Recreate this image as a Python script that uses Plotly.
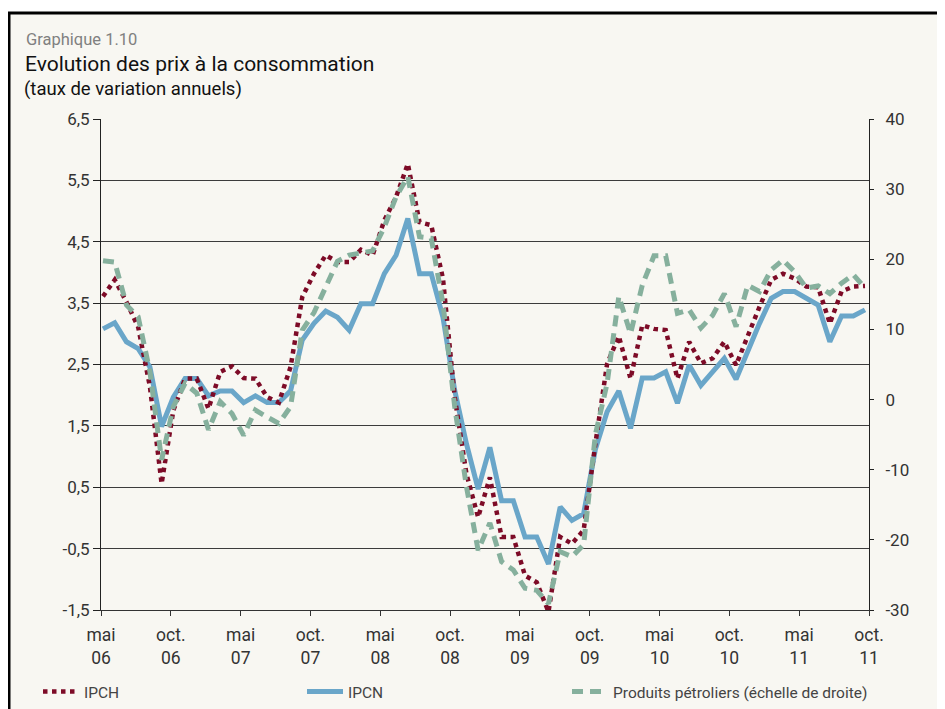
import plotly.graph_objects as go

# ---------------- data (monthly) ----------------
months = list(range(66))

ipch = [3.61, 3.88, 3.52, 3.11, 2.14, 0.56, 1.75, 2.27, 2.27, 1.78,
        2.38, 2.47, 2.28, 2.27, 1.97, 1.88, 2.46, 3.60, 3.98, 4.28,
        4.17, 4.17, 4.37, 4.28, 4.85, 5.23, 5.77, 4.82, 4.77, 3.90,
        1.97, 0.72, 0.01, 0.66, -0.31, -0.31, -0.94, -1.05, -1.53, -0.31,
        -0.42, -0.20, 1.21, 2.51, 2.96, 2.27, 3.14, 3.08, 3.06, 2.27,
        2.87, 2.52, 2.60, 2.87, 2.49, 2.98, 3.44, 3.88, 3.98, 3.90,
        3.77, 3.76, 3.17, 3.69, 3.77, 3.78]

ipcn = [3.08, 3.18, 2.87, 2.76, 2.46, 1.49, 1.97, 2.27, 2.27, 1.99,
        2.07, 2.07, 1.88, 1.99, 1.88, 1.88, 2.07, 2.90, 3.17, 3.37,
        3.27, 3.06, 3.49, 3.49, 3.98, 4.28, 4.88, 3.98, 3.98, 3.27,
        2.08, 1.21, 0.47, 1.15, 0.28, 0.28, -0.31, -0.31, -0.75, 0.18,
        -0.04, 0.07, 1.12, 1.73, 2.07, 1.46, 2.28, 2.28, 2.38, 1.87,
        2.49, 2.16, 2.38, 2.60, 2.26, 2.73, 3.17, 3.58, 3.69, 3.69,
        3.58, 3.47, 2.87, 3.29, 3.29, 3.39]

petrol = [19.8, 19.6, 13.5, 11.8, 4.0, -8.6, -1.0, 2.3, 0.9, -4.3,
          -0.3, -2.0, -5.1, -1.5, -2.5, -3.4, -1.0, 9.9, 12.4, 16.0,
          19.7, 20.6, 20.9, 21.2, 24.6, 28.9, 31.8, 23.2, 23.0, 13.7,
          -1.0, -12.4, -21.5, -17.6, -23.1, -24.3, -26.9, -27.2, -29.1, -21.7,
          -22.4, -20.7, -5.0, 2.3, 14.7, 9.4, 16.3, 20.5, 20.5, 12.3,
          12.8, 10.2, 12.0, 15.1, 10.4, 16.3, 15.4, 18.5, 19.9, 18.2,
          15.9, 16.2, 15.1, 16.6, 17.8, 15.9]

x_tick_labels = ["mai<br>06", "oct.<br>06", "mai<br>07", "oct.<br>07",
                 "mai<br>08", "oct.<br>08", "mai<br>09", "oct.<br>09",
                 "mai<br>10", "oct.<br>10", "mai<br>11", "oct.<br>11"]

left_tick_vals = [6.5, 5.5, 4.5, 3.5, 2.5, 1.5, 0.5, -0.5, -1.5]
left_tick_text = ["6,5", "5,5", "4,5", "3,5", "2,5", "1,5", "0,5", "-0,5", "-1,5"]
right_tick_vals = [40, 30, 20, 10, 0, -10, -20, -30]
right_tick_text = ["40", "30", "20", "10", "0", "-10", "-20", "-30"]

series_names = ["IPCH", "IPCN", "Produits pétroliers (échelle de droite)"]

# ---------------- layout helpers ----------------
# the page body keeps an 8px margin, so the figure is 8px smaller and
# helper coordinates below are given in page pixels
OFF = 8
W, H = 945 - OFF, 709 - OFF
L, R, T, B = 93, 76, 111, 99
PW, PH = W - L - R, H - T - B


def px(x):
    return (x - OFF - L) / PW


def py(y):
    return (H - B - (y - OFF)) / PH


X_RANGE = [-0.17, 65.34]
x_tick_vals = [X_RANGE[0] + k * (X_RANGE[1] - X_RANGE[0]) / (len(x_tick_labels) - 1)
               for k in range(len(x_tick_labels))]

BG = "#f8f7f2"
FONT = "Roboto, 'Open Sans', sans-serif"

fig = go.Figure()

fig.add_trace(go.Scatter(
    x=months, y=petrol, name=series_names[2], yaxis="y2", mode="lines",
    line=dict(color="#86b09d", width=5, dash="11px,7px"), legend="legend3"))
fig.add_trace(go.Scatter(
    x=months, y=ipcn, name=series_names[1], mode="lines",
    line=dict(color="#6aa6c9", width=5), legend="legend2"))
fig.add_trace(go.Scatter(
    x=months, y=ipch, name=series_names[0], mode="lines",
    line=dict(color="#7d0b27", width=4.5, dash="dot"), legend="legend"))

shapes = [
    # beige panel with black frame on top and left
    dict(type="rect", xref="paper", yref="paper",
         x0=px(9), x1=px(980), y0=py(760), y1=py(13),
         fillcolor=BG, line=dict(color="black", width=3), layer="below"),
]

annotations = [
    dict(text="Graphique 1.10", x=px(24), y=py(39), xref="paper", yref="paper",
         xanchor="left", yanchor="middle", showarrow=False,
         font=dict(family=FONT, size=16.5, color="#808080")),
    dict(text="Evolution des prix à la consommation", x=px(23), y=py(64), xref="paper", yref="paper",
         xanchor="left", yanchor="middle", showarrow=False,
         font=dict(family=FONT, size=21, color="#111111")),
    dict(text="(taux de variation annuels)", x=px(22), y=py(89), xref="paper", yref="paper",
         xanchor="left", yanchor="middle", showarrow=False,
         font=dict(family=FONT, size=18.5, color="#111111")),
]


def legend_at(x_page):
    return dict(orientation="h", x=px(x_page), xanchor="left", y=py(692), yanchor="middle",
                itemwidth=36, font=dict(family=FONT, size=15.5, color="#444444"),
                bgcolor="rgba(0,0,0,0)")


fig.update_layout(
    width=W, height=H,
    margin=dict(l=L, r=R, t=T, b=B, pad=0, autoexpand=False),
    paper_bgcolor="white", plot_bgcolor=BG,
    font=dict(family=FONT, size=17, color="#333333"),
    showlegend=True,
    legend=legend_at(38),
    legend2=legend_at(302),
    legend3=legend_at(567),
    shapes=shapes,
    annotations=annotations,
    xaxis=dict(range=X_RANGE, tickmode="array", tickvals=x_tick_vals, ticktext=x_tick_labels,
               showgrid=False, zeroline=False, showline=True, linecolor="#333333", linewidth=1,
               mirror=False, ticks="outside", ticklen=5, tickcolor="#333333",
               ticklabelstandoff=4, tickfont=dict(size=17.5, color="#333333")),
    yaxis=dict(range=[-1.5, 6.5], tickmode="array", tickvals=left_tick_vals, ticktext=left_tick_text,
               showgrid=True, gridcolor="#3c3c3c", gridwidth=1, zeroline=False,
               showline=True, linecolor="#222222", linewidth=1,
               ticks="outside", ticklen=7, tickcolor="#222222",
               tickfont=dict(size=17, color="#333333")),
    yaxis2=dict(range=[-30, 40], overlaying="y", side="right", tickmode="array",
                tickvals=right_tick_vals, ticktext=right_tick_text,
                showgrid=False, zeroline=False, showline=True, linecolor="#222222", linewidth=1,
                ticks="outside", ticklen=4, tickcolor="#222222", ticklabelstandoff=8,
                tickfont=dict(size=17, color="#333333")),
)

fig.write_html("out.html")
